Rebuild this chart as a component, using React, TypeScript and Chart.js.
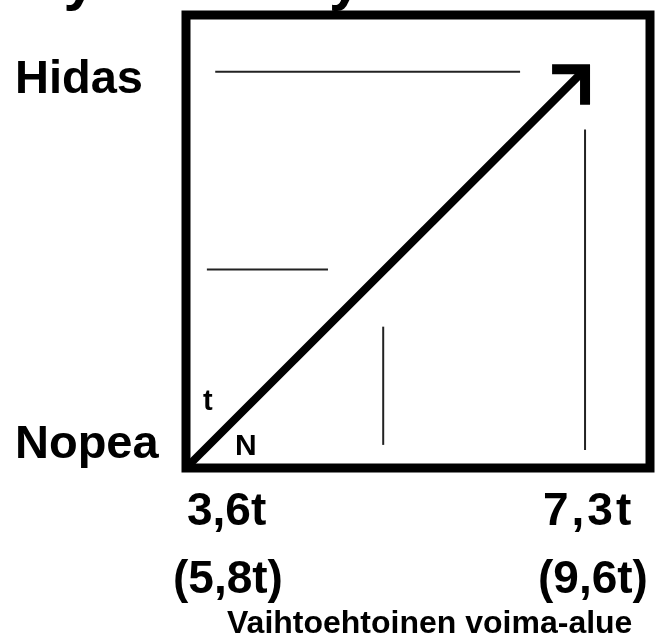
import React, { useEffect, useRef } from "react";
import { Chart, registerables } from "chart.js";

Chart.register(...registerables);

// ---- text content ----
const titleText = "Käytännön työsuoritusalue";
const speedLabels = ["Hidas", "Nopea"];
const forceTickLabels = [
  ["3,6t", "(5,8t)"],
  ["7,3t", "(9,6t)"],
];
const forceAxisTitle = "Vaihtoehtoinen voima-alue";
const cornerMarks = ["t", "N"];

// ---- series (axis units 0..100) ----
const diagonalX = [0, 86];
const diagonalY = [0, 88];
const arrowHeadX = [78.9, 86, 86];
const arrowHeadY = [88, 88, 80.2];
const topLineX = [6.3, 72];
const topLineY = [87.5, 87.5];
const midLineX = [4.5, 30.6];
const midLineY = [43.8, 43.8];
const innerVLineX = [42.5, 42.5];
const innerVLineY = [5.1, 31.2];
const rightVLineX = [86, 86];
const rightVLineY = [4, 74.7];

const toPoints = (xs: number[], ys: number[]) => xs.map((x, i) => ({ x, y: ys[i] }));

const FONT = "'Liberation Sans', Arial, sans-serif";

const labelPlugin = {
  id: "labelPlugin",
  afterDatasetsDraw(chart: any) {
    const { ctx, chartArea } = chart;
    ctx.save();
    // frame
    ctx.lineWidth = 9;
    ctx.lineJoin = "miter";
    ctx.strokeStyle = "#000";
    ctx.strokeRect(
      chartArea.left,
      chartArea.top,
      chartArea.right - chartArea.left,
      chartArea.bottom - chartArea.top
    );

    ctx.fillStyle = "#000";
    ctx.textAlign = "left";
    ctx.textBaseline = "alphabetic";

    const put = (text: string, x: number, y: number, size: number, spacing = "0px") => {
      ctx.font = `bold ${size}px ${FONT}`;
      try {
        (ctx as any).letterSpacing = spacing;
      } catch (e) {}
      ctx.fillText(text, x, y);
    };

    // title (mostly above the visible area)
    put(titleText, -12, -1, 59);

    // speed labels
    put(speedLabels[0], 15, 93, 47);
    put(speedLabels[1], 15, 458, 47);

    // corner marks
    put(cornerMarks[0], 203, 410, 29);
    put(cornerMarks[1], 235, 455, 30);

    // force tick labels
    put(forceTickLabels[0][0], 187, 525, 46);
    put(forceTickLabels[0][1], 173, 593, 46);
    put(forceTickLabels[1][0], 543, 525, 46, "3px");
    put(forceTickLabels[1][1], 538, 593, 46);

    // axis title
    put(forceAxisTitle, 227, 633, 32);
    ctx.restore();
  },
};

export default function App() {
  const canvasRef = useRef<HTMLCanvasElement | null>(null);

  useEffect(() => {
    if (!canvasRef.current) return;
    const thin = { borderWidth: 2, borderColor: "#222" };
    const base = {
      showLine: true,
      pointRadius: 0,
      pointHoverRadius: 0,
      clip: false as any,
      borderCapStyle: "butt" as const,
    };
    const chart = new Chart(canvasRef.current, {
      type: "scatter",
      data: {
        datasets: [
          { ...base, ...thin, data: toPoints(topLineX, topLineY) },
          { ...base, ...thin, data: toPoints(midLineX, midLineY) },
          { ...base, ...thin, data: toPoints(innerVLineX, innerVLineY) },
          { ...base, ...thin, data: toPoints(rightVLineX, rightVLineY) },
          {
            ...base,
            borderWidth: 8,
            borderColor: "#000",
            data: toPoints(diagonalX, diagonalY),
          },
          {
            ...base,
            borderWidth: 10,
            borderColor: "#000",
            borderJoinStyle: "miter",
            data: toPoints(arrowHeadX, arrowHeadY),
          },
        ],
      },
      options: {
        animation: false,
        responsive: false,
        devicePixelRatio: 1,
        layout: { padding: { left: 186, right: 7, top: 15, bottom: 172 } },
        plugins: {
          legend: { display: false },
          tooltip: { enabled: false },
          title: { display: false },
        },
        scales: {
          x: { type: "linear", min: 0, max: 100, display: false },
          y: { type: "linear", min: 0, max: 100, display: false },
        },
      },
      plugins: [labelPlugin],
    });
    return () => chart.destroy();
  }, []);

  return (
    <div
      style={{
        position: "absolute",
        left: 0,
        top: 0,
        width: 657,
        height: 640,
        background: "#fff",
      }}
    >
      <canvas
        ref={canvasRef}
        width={657}
        height={640}
        style={{ display: "block", width: 657, height: 640 }}
      />
    </div>
  );
}
